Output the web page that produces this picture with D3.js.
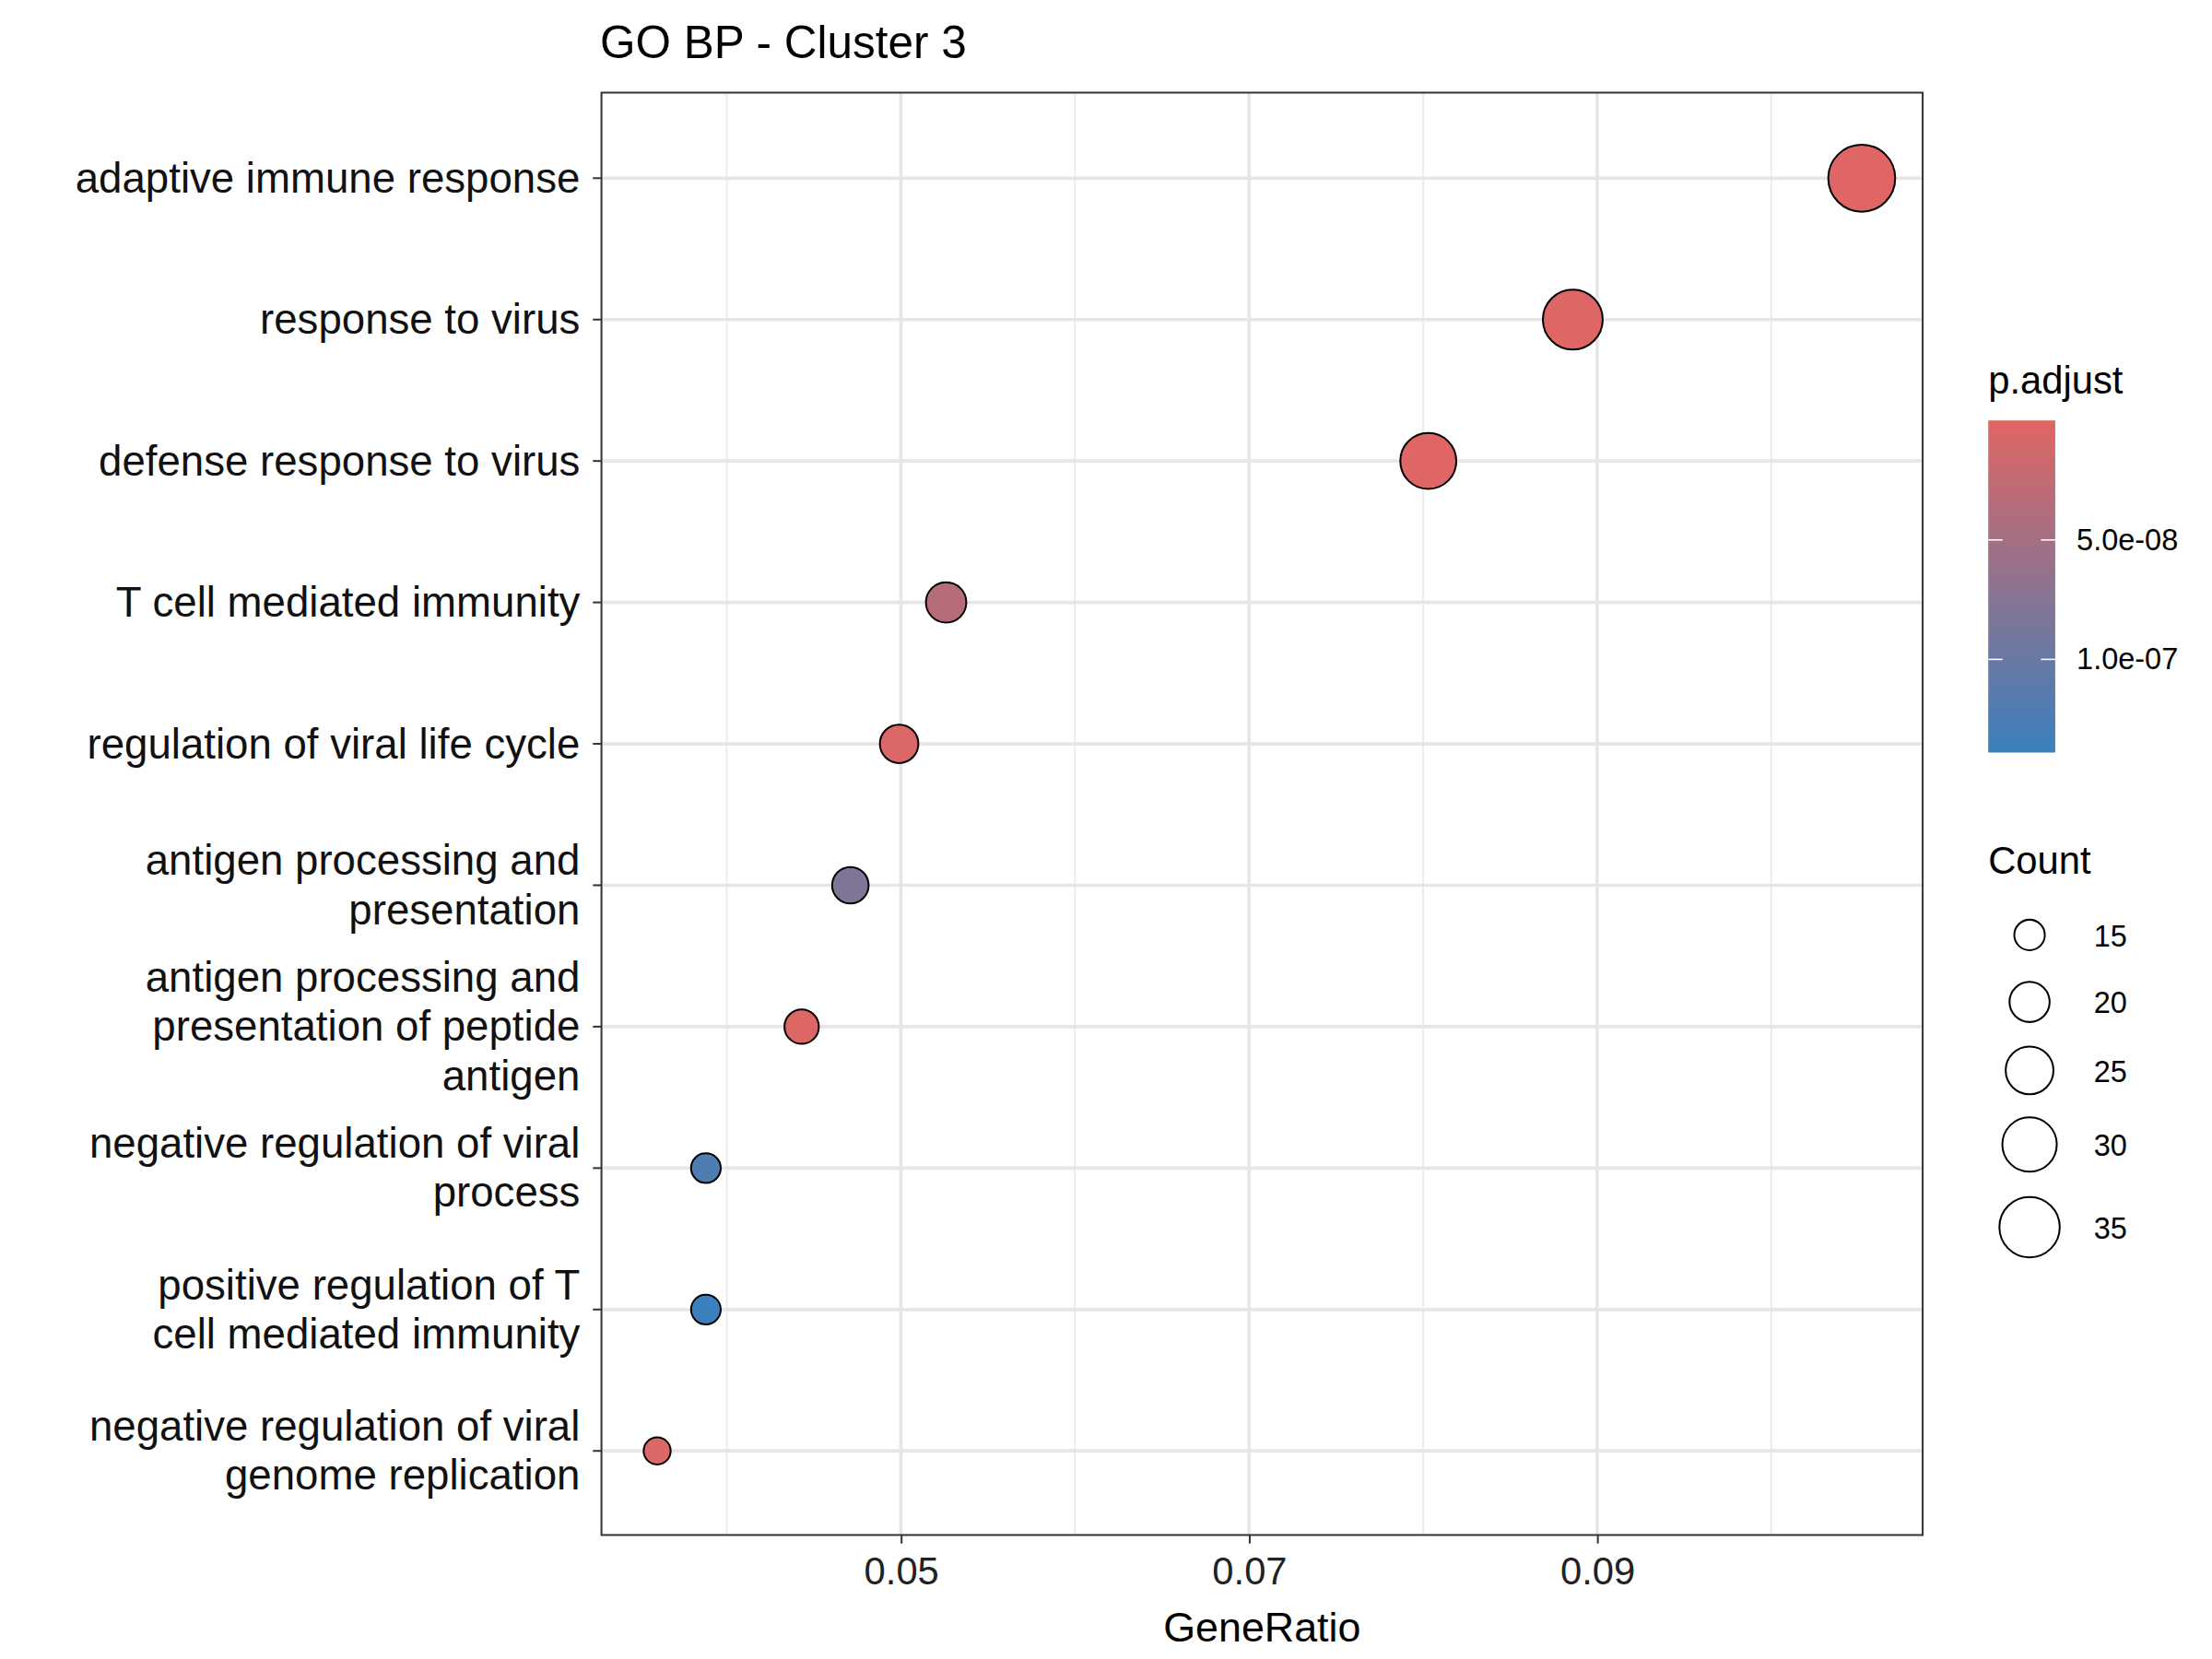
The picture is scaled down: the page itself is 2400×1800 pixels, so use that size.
<!DOCTYPE html>
<html><head><meta charset="utf-8">
<script src="https://cdn.jsdelivr.net/npm/d3@7"></script>
<style>body{margin:0;background:#fff}text{font-family:"Liberation Sans",Arial,sans-serif}</style>
</head><body>
<svg id="c" width="2400" height="1800" viewBox="0 0 1552 1164"></svg>
<script>
// data
let terms = [
  ["adaptive immune response"],
  ["response to virus"],
  ["defense response to virus"],
  ["T cell mediated immunity"],
  ["regulation of viral life cycle"],
  ["antigen processing and", "presentation"],
  ["antigen processing and", "presentation of peptide", "antigen"],
  ["negative regulation of viral", "process"],
  ["positive regulation of T", "cell mediated immunity"],
  ["negative regulation of viral", "genome replication"]
]
let counts = [38, 32, 29, 19, 18, 17, 16, 14, 14, 13]
let geneRatio = [0.1052, 0.0886, 0.0803, 0.0526, 0.0499, 0.0471, 0.0443, 0.0388, 0.0388, 0.0360]
let pAdjust = [1e-9, 2e-9, 1e-9, 3.4e-8, 4e-9, 8e-8, 3e-9, 1.22e-7, 1.38e-7, 4e-9]
let xTicks = [0.05, 0.07, 0.09]
let xMinor = [0.04, 0.06, 0.08, 0.10]
let pTicks = [5e-8, 1e-7]
let sizeBreaks = [15, 20, 25, 30, 35]

let svg = d3.select('#c')
let L = 422, R = 1349, T = 65, B = 1077

let x = d3.scaleLinear().domain([0.0328, 0.1087]).range([L, R])
let y = d3.scalePoint().domain(d3.range(terms.length)).range([125, 1018])
let col = d3.scaleLinear().domain([0, 1.39e-7]).range(['#E06663', '#3A80BD']).interpolate(d3.interpolateRgb)
let area = d3.scaleLinear().domain([13, 38]).range([90, 552])
let r = c => Math.sqrt(area(c))

// grid
svg.selectAll('.mg').data(xMinor).join('line')
  .attr('x1', d => x(d)).attr('x2', d => x(d)).attr('y1', T).attr('y2', B)
  .attr('stroke', '#ebebeb').attr('stroke-width', 1.2)
svg.selectAll('.Mg').data(xTicks).join('line')
  .attr('x1', d => x(d)).attr('x2', d => x(d)).attr('y1', T).attr('y2', B)
  .attr('stroke', '#e6e6e6').attr('stroke-width', 2.4)
svg.selectAll('.yg').data(terms).join('line')
  .attr('x1', L).attr('x2', R).attr('y1', (d, i) => y(i)).attr('y2', (d, i) => y(i))
  .attr('stroke', '#e6e6e6').attr('stroke-width', 2.4)

// points
svg.selectAll('.pt').data(terms).join('circle')
  .attr('cx', (d, i) => x(geneRatio[i])).attr('cy', (d, i) => y(i))
  .attr('r', (d, i) => r(counts[i]))
  .attr('fill', (d, i) => col(pAdjust[i])).attr('stroke', '#000').attr('stroke-width', 1.3)

svg.append('rect').attr('x', L).attr('y', T).attr('width', R - L).attr('height', B - T)
  .attr('fill', 'none').attr('stroke', '#333').attr('stroke-width', 1.3)

// x axis
let xa = svg.append('g').attr('transform', `translate(0,${B})`)
  .call(d3.axisBottom(x).tickValues(xTicks).tickSize(6).tickPadding(6).tickFormat(d3.format('.2f')))
xa.select('.domain').remove()
xa.selectAll('line').attr('stroke', '#333').attr('stroke-width', 1.3)
xa.selectAll('text').attr('font-size', 27).attr('fill', '#222').attr('dy', '0.85em')
svg.append('text').attr('x', (L + R) / 2).attr('y', 1152)
  .attr('text-anchor', 'middle').attr('font-size', 29).text('GeneRatio')

// y axis
terms.forEach((lines, i) => {
  svg.append('line').attr('x1', L - 6).attr('x2', L).attr('y1', y(i)).attr('y2', y(i))
    .attr('stroke', '#333').attr('stroke-width', 1.3)
  let t = svg.append('text').attr('text-anchor', 'end').attr('font-size', 29.5).attr('fill', '#111')
  let n = lines.length, lh = 34.5
  lines.forEach((s, k) => t.append('tspan').attr('x', L - 15)
    .attr('y', y(i) + (k - (n - 1) / 2) * lh + 10).text(s))
})

svg.append('text').attr('x', 421).attr('y', 41).attr('font-size', 32).text('GO BP - Cluster 3')

// colour legend
let defs = svg.append('defs')
let gr = defs.append('linearGradient').attr('id', 'g').attr('x1', 0).attr('x2', 0).attr('y1', 0).attr('y2', 1)
d3.range(0, 1.01, 0.1).forEach(f => gr.append('stop').attr('offset', f).attr('stop-color', col(f * 1.39e-7)))
let cy = d3.scaleLinear().domain([0, 1.39e-7]).range([295, 528])
svg.append('text').attr('x', 1395).attr('y', 276).attr('font-size', 27).text('p.adjust')
svg.append('rect').attr('x', 1395).attr('y', 295).attr('width', 47).attr('height', 233).attr('fill', 'url(#g)')
pTicks.forEach((p, i) => {
  svg.append('line').attr('x1', 1395).attr('x2', 1405).attr('y1', cy(p)).attr('y2', cy(p)).attr('stroke', '#fff')
  svg.append('line').attr('x1', 1432).attr('x2', 1442).attr('y1', cy(p)).attr('y2', cy(p)).attr('stroke', '#fff')
  svg.append('text').attr('x', 1457).attr('y', cy(p) + 7).attr('font-size', 21).text(['5.0e-08', '1.0e-07'][i])
})

// size legend
svg.append('text').attr('x', 1395).attr('y', 613).attr('font-size', 27).text('Count')
let ly = [656, 703, 751, 803, 861]
sizeBreaks.forEach((c, i) => {
  svg.append('circle').attr('cx', 1424).attr('cy', ly[i]).attr('r', r(c) * 0.95)
    .attr('fill', 'none').attr('stroke', '#000').attr('stroke-width', 1.3)
  svg.append('text').attr('x', 1469).attr('y', ly[i] + 8).attr('font-size', 21).text(c)
})
</script>
</body></html>
